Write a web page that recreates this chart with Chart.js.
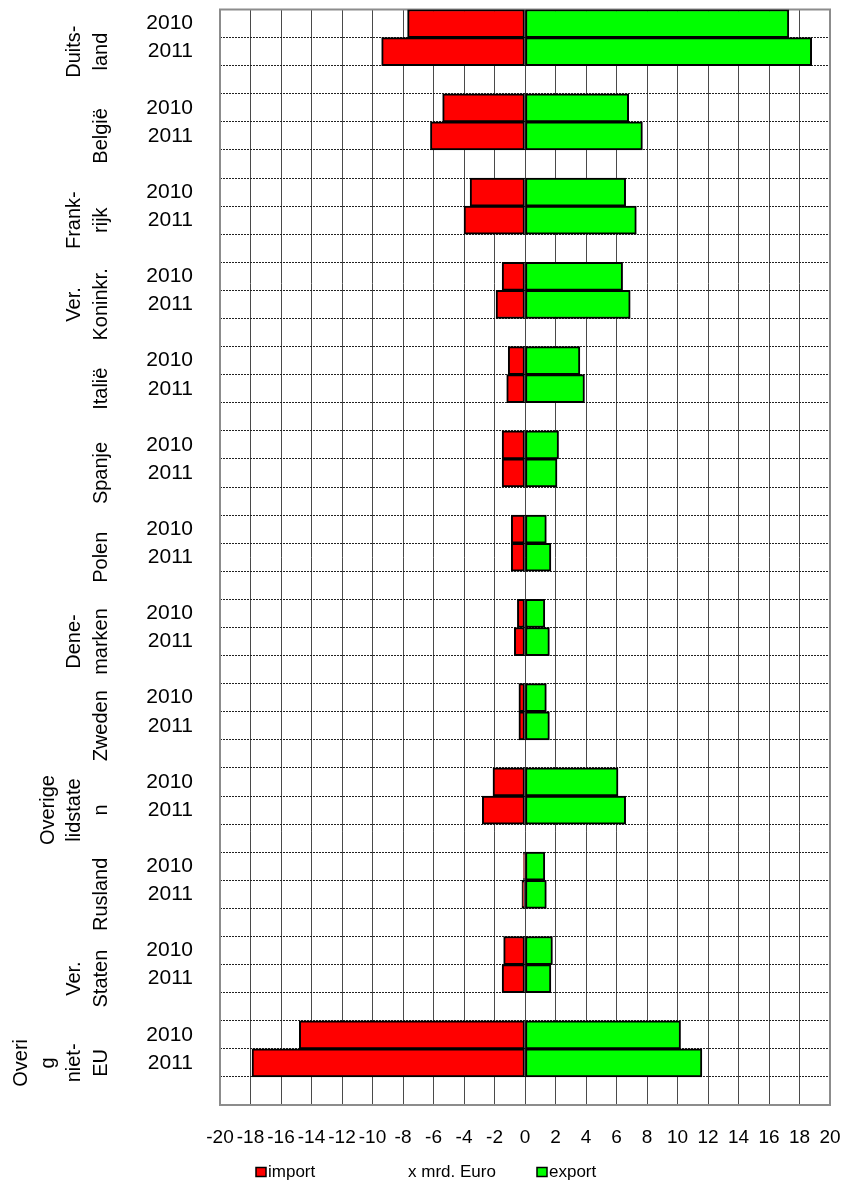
<!DOCTYPE html>
<html>
<head>
<meta charset="utf-8">
<script src="https://cdn.jsdelivr.net/npm/chart.js@4.4.4/dist/chart.umd.min.js"></script>
<style>
  html, body { margin: 0; padding: 0; background: #fff; }
  #wrap { width: 856px; height: 1184px; }
</style>
</head>
<body>
<div id="wrap"><canvas id="chart"></canvas></div>
<script>
// ── Data (x mrd. Euro) ─────────────────────────────────────────────────────
const countries = [
  ['Duits-', 'land'], ['België'], ['Frank-', 'rijk'], ['Ver.', 'Koninkr.'],
  ['Italië'], ['Spanje'], ['Polen'], ['Dene-', 'marken'], ['Zweden'],
  ['Overige', 'lidstate', 'n'], ['Rusland'], ['Ver.', 'Staten'],
  ['Overi', 'g', 'niet-', 'EU'],
];
const years = ['2010', '2011'];

const import2010 = [-7.7, -5.4, -3.6, -1.5, -1.1, -1.5, -0.9, -0.5, -0.4, -2.1, -0.1, -1.4, -14.8];
const import2011 = [-9.4, -6.2, -4.0, -1.9, -1.2, -1.5, -0.9, -0.7, -0.4, -2.8, -0.2, -1.5, -17.9];
const export2010 = [17.3, 6.8, 6.6, 6.4, 3.6, 2.2, 1.4, 1.3, 1.4, 6.1, 1.3, 1.8, 10.2];
const export2011 = [18.8, 7.7, 7.3, 6.9, 3.9, 2.1, 1.7, 1.6, 1.6, 6.6, 1.4, 1.7, 11.6];

const xTicks = [-20, -18, -16, -14, -12, -10, -8, -6, -4, -2, 0, 2, 4, 6, 8, 10, 12, 14, 16, 18, 20];
const unitLabel = 'x mrd. Euro';

const RED   = '#ff0000';
const GREEN = '#00ff00';
const FONT  = '"Liberation Sans", Arial, sans-serif';

// each country gets three rows: 2010, 2011 and an empty spacer row
const rowLabels = countries.flatMap(() => [...years, '']);
const rows = (a, b) => a.flatMap((v, i) => [v, b[i], null]);

// ── Plugins ────────────────────────────────────────────────────────────────

const frame = {
  id: 'frame',
  beforeDatasetsDraw(chart) {
    const { ctx, chartArea: a } = chart;
    ctx.save();
    ctx.strokeStyle = '#8c8c8c';
    ctx.lineWidth = 2;
    ctx.strokeRect(a.left, a.top, a.right - a.left, a.bottom - a.top);
    ctx.restore();
  },
};

// rotated country names left of the year labels
const countryLabels = {
  id: 'countryLabels',
  afterDraw(chart) {
    const { ctx } = chart;
    const y = chart.scales.y;
    ctx.save();
    ctx.font = `20px ${FONT}`;
    ctx.fillStyle = '#000';
    ctx.textAlign = 'center';
    ctx.textBaseline = 'middle';
    countries.forEach((lines, i) => {
      const cy = (y.getPixelForValue(i * 3) + y.getPixelForValue(i * 3 + 2)) / 2;
      lines.forEach((txt, j) => {
        const cx = 101 - (lines.length - 1 - j) * 26.5;
        ctx.save();
        ctx.translate(cx, cy);
        ctx.rotate(-Math.PI / 2);
        ctx.fillText(txt, 0, 0);
        ctx.restore();
      });
    });
    ctx.restore();
  },
};

// bottom legend with the unit label between the two entries
const legendRow = {
  id: 'legendRow',
  afterDraw(chart) {
    const { ctx } = chart;
    const ds = chart.data.datasets;
    const cy = 1172;
    ctx.save();
    ctx.font = `17px ${FONT}`;
    ctx.fillStyle = '#000';
    ctx.textBaseline = 'middle';
    const item = (x, color, text) => {
      ctx.fillStyle = color;
      ctx.fillRect(x, cy - 4.5, 10, 9);
      ctx.strokeStyle = '#000';
      ctx.lineWidth = 1.5;
      ctx.strokeRect(x, cy - 4.5, 10, 9);
      ctx.fillStyle = '#000';
      ctx.fillText(text, x + 12, cy);
    };
    item(256, ds[0].backgroundColor, ds[0].label);
    ctx.fillText(unitLabel, 408, cy);
    item(537, ds[1].backgroundColor, ds[1].label);
    ctx.restore();
  },
};

// ── Chart ──────────────────────────────────────────────────────────────────

const barStyle = {
  borderColor: '#000',
  borderWidth: 2,
  borderSkipped: false,
  barPercentage: 1,
  categoryPercentage: 1,
};

new Chart(document.getElementById('chart'), {
  type: 'bar',
  data: {
    labels: rowLabels,
    datasets: [
      { label: 'import', data: rows(import2010, import2011), backgroundColor: RED, ...barStyle },
      { label: 'export', data: rows(export2010, export2011), backgroundColor: GREEN, ...barStyle },
    ],
  },
  options: {
    indexAxis: 'y',
    responsive: true,
    maintainAspectRatio: false,
    animation: false,
    layout: { padding: { left: 0, right: 26, top: 9.5, bottom: 36 } },
    plugins: { legend: { display: false }, tooltip: { enabled: false } },
    scales: {
      x: {
        stacked: true,
        min: -20,
        max: 20,
        afterBuildTicks: s => { s.ticks = xTicks.map(v => ({ value: v })); },
        afterFit: s => { s.height = 43; s.paddingLeft = 0; s.paddingRight = 0; },
        ticks: {
          autoSkip: false,
          maxRotation: 0,
          minRotation: 0,
          padding: 21,
          color: '#000',
          font: { family: FONT, size: 19 },
        },
        grid: { color: '#4a4a4a', lineWidth: 1, drawTicks: false },
        border: { display: false },
      },
      y: {
        stacked: true,
        afterFit: s => { s.width = 220; s.paddingTop = 0; s.paddingBottom = 0; },
        ticks: {
          autoSkip: false,
          padding: 27,
          color: '#000',
          font: { family: FONT, size: 21 },
        },
        grid: { color: '#222', lineWidth: 1, drawTicks: false, offset: true },
        border: { display: false, dash: [2, 1] },
      },
    },
  },
  plugins: [frame, countryLabels, legendRow],
});
</script>
</body>
</html>
